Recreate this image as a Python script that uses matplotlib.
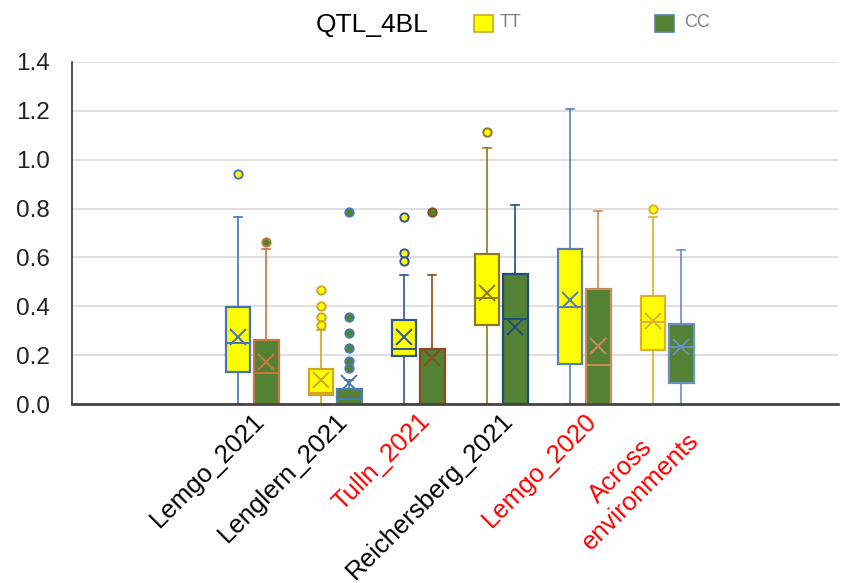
import numpy as np
import matplotlib.pyplot as plt

plt.rcParams["font.family"] = ["Liberation Sans", "DejaVu Sans"]

# environments along the x axis
envs = ["Lemgo_2021", "Lenglern_2021", "Tulln_2021", "Reichersberg_2021",
        "Lemgo_2020", "Across\nenvironments"]
label_colors = ["black", "black", "red", "black", "red", "red"]

# allele TT: whisker low, q1, median, q3, whisker high, mean, outliers
tt_lo = [0.0, 0.0, 0.0, 0.0, 0.0, 0.0]
tt_q1 = [0.132, 0.037, 0.197, 0.325, 0.163, 0.221]
tt_med = [0.251, 0.044, 0.227, 0.433, 0.398, 0.335]
tt_q3 = [0.399, 0.143, 0.344, 0.616, 0.633, 0.444]
tt_hi = [0.765, 0.303, 0.529, 1.049, 1.209, 0.766]
tt_mean = [0.276, 0.098, 0.273, 0.456, 0.424, 0.340]
tt_out = [[0.941], [0.467, 0.403, 0.355, 0.324], [0.764, 0.620, 0.585],
          [1.113], [], [0.800]]

# allele CC
cc_lo = [0.0, 0.0, 0.0, 0.0, 0.0, 0.0]
cc_q1 = [0.0, 0.0, 0.0, 0.0, 0.0, 0.085]
cc_med = [0.126, 0.02, 0.0, 0.346, 0.160, 0.232]
cc_q3 = [0.262, 0.061, 0.227, 0.534, 0.469, 0.327]
cc_hi = [0.635, 0.100, 0.529, 0.813, 0.788, 0.630]
cc_mean = [0.173, 0.085, 0.190, 0.317, 0.239, 0.232]
cc_out = [[0.663], [0.787, 0.355, 0.290, 0.228, 0.178, 0.146], [0.786],
          [], [], []]

tt_fill = "#FFFF00"
cc_fill = "#548235"
tt_edges = ["#4472C4", "#D4A520", "#2F5597", "#8C7A1E", "#5B7DB5", "#E0B030"]
cc_edges = ["#C87841", "#4A7AB0", "#8B4A1C", "#1F4E79", "#D08A5A", "#6A90C0"]


def draw_box(ax, pos, lo, q1, med, q3, hi, mean, fliers, fill, edge):
    stats = [dict(whislo=lo, q1=q1, med=med, q3=q3, whishi=hi,
                  mean=mean, fliers=fliers)]
    ax.bxp(stats, positions=[pos], widths=0.3, showmeans=True, patch_artist=True,
           boxprops=dict(facecolor=fill, edgecolor=edge, linewidth=1.6),
           medianprops=dict(color=edge, linewidth=1.4),
           whiskerprops=dict(color=edge, linewidth=1.2),
           capprops=dict(color=edge, linewidth=1.2),
           capwidths=0.1,
           meanprops=dict(marker="x", markeredgecolor=edge, markersize=11,
                          markeredgewidth=1.4),
           flierprops=dict(marker="o", markerfacecolor=fill,
                           markeredgecolor=edge, markersize=6,
                           markeredgewidth=1.4),
           zorder=3)


fig = plt.figure(figsize=(8.44, 5.83), dpi=100)
ax = fig.add_axes([0.0853, 0.307, 0.9077, 0.5867])

x = np.arange(len(envs))
for i in x:
    draw_box(ax, i - 0.17, tt_lo[i], tt_q1[i], tt_med[i], tt_q3[i], tt_hi[i],
             tt_mean[i], tt_out[i], tt_fill, tt_edges[i])
    draw_box(ax, i + 0.17, cc_lo[i], cc_q1[i], cc_med[i], cc_q3[i], cc_hi[i],
             cc_mean[i], cc_out[i], cc_fill, cc_edges[i])

ax.set_xlim(-2.17, 7.06)
ax.set_ylim(0, 1.4)
ax.set_yticks(np.arange(0, 1.41, 0.2))
ax.set_yticklabels([f"{v:.1f}" for v in np.arange(0, 1.41, 0.2)], fontsize=17.5)
ax.yaxis.grid(True, color="#D9D9D9", linewidth=1.2, zorder=0)
ax.set_axisbelow(True)
ax.tick_params(axis="y", length=0, pad=16, labelcolor="#222222")
ax.tick_params(axis="x", length=0, pad=3)

ax.set_xticks(x)
ax.set_xticklabels(envs, rotation=45, ha="right", rotation_mode="anchor",
                   fontsize=18.5, multialignment="center")
for lbl, c in zip(ax.get_xticklabels(), label_colors):
    lbl.set_color(c)

for s in ["top", "right"]:
    ax.spines[s].set_visible(False)
ax.spines["left"].set_color("#333333")
ax.spines["left"].set_linewidth(1.2)
ax.spines["bottom"].set_color("#444444")
ax.spines["bottom"].set_linewidth(2)
ax.spines["bottom"].set_zorder(4)

# title and legend on one row above the plot
fig.text(0.441, 0.957, "QTL_4BL", fontsize=19, ha="center", va="center")
fig.patches.append(plt.Rectangle((0.5615, 0.945), 0.0225, 0.030,
                                 facecolor=tt_fill, edgecolor="#D4A520",
                                 linewidth=1.2, transform=fig.transFigure))
fig.text(0.592, 0.961, "TT", fontsize=13, color="#808080", va="center")
fig.patches.append(plt.Rectangle((0.776, 0.945), 0.0225, 0.030,
                                 facecolor=cc_fill, edgecolor="#5A80B0",
                                 linewidth=1.2, transform=fig.transFigure))
fig.text(0.811, 0.961, "CC", fontsize=13, color="#808080", va="center")

fig.savefig("out.png", dpi=100)
